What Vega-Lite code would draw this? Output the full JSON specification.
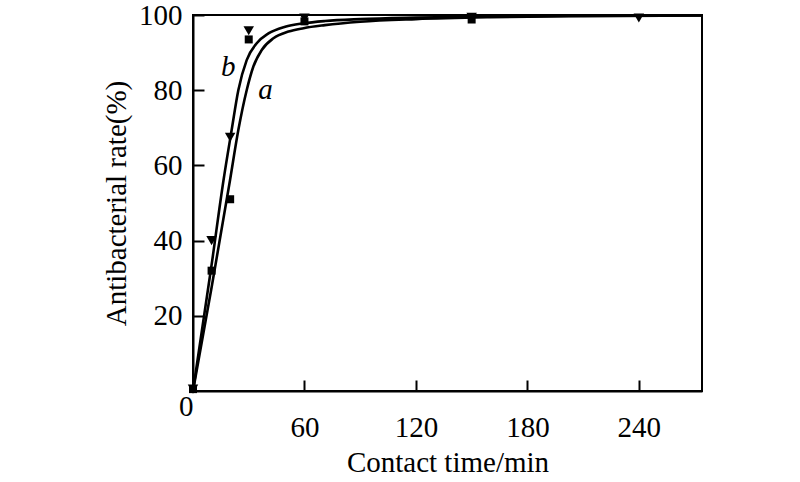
{
  "$schema": "https://vega.github.io/schema/vega-lite/v6.json",
  "width": 509,
  "height": 376,
  "autosize": "none",
  "padding": {"left": 193, "top": 15, "right": 98, "bottom": 91},
  "background": "white",
  "config": {
    "view": {"stroke": "black", "strokeWidth": 2},
    "axis": {
      "domainColor": "black", "domainWidth": 2,
      "tickColor": "black", "tickWidth": 2, "tickSize": -11,
      "labelFont": "Liberation Serif", "labelFontSize": 29, "labelColor": "black",
      "titleFont": "Liberation Serif", "titleFontSize": 29, "titleFontWeight": "normal", "titleColor": "black",
      "grid": false
    }
  },
  "datasets": {
    "curves": [
      {"series": "a", "t": 0, "y": 0}, {"series": "a", "t": 10, "y": 27.5}, {"series": "a", "t": 19.9, "y": 56},
      {"series": "a", "t": 24.4, "y": 69.4}, {"series": "a", "t": 28.9, "y": 80}, {"series": "a", "t": 32.5, "y": 86.3},
      {"series": "a", "t": 37, "y": 90.7}, {"series": "a", "t": 43.3, "y": 93.8}, {"series": "a", "t": 51.4, "y": 95.6},
      {"series": "a", "t": 59.5, "y": 96.5}, {"series": "a", "t": 71, "y": 97.3}, {"series": "a", "t": 90, "y": 98.2},
      {"series": "a", "t": 120, "y": 98.9}, {"series": "a", "t": 160, "y": 99.4}, {"series": "a", "t": 210, "y": 99.7},
      {"series": "a", "t": 274, "y": 99.9},
      {"series": "b", "t": 0, "y": 0}, {"series": "b", "t": 10, "y": 33.5}, {"series": "b", "t": 16.4, "y": 56},
      {"series": "b", "t": 20.8, "y": 69.4}, {"series": "b", "t": 24.4, "y": 80}, {"series": "b", "t": 28.9, "y": 88},
      {"series": "b", "t": 34.3, "y": 92.5}, {"series": "b", "t": 40.6, "y": 95.1}, {"series": "b", "t": 49.6, "y": 96.9},
      {"series": "b", "t": 59.5, "y": 97.8}, {"series": "b", "t": 71, "y": 98.4}, {"series": "b", "t": 90, "y": 98.9},
      {"series": "b", "t": 120, "y": 99.3}, {"series": "b", "t": 160, "y": 99.6}, {"series": "b", "t": 210, "y": 99.8},
      {"series": "b", "t": 274, "y": 99.9}
    ],
    "points": [
      {"series": "a", "t": 0, "y": 0.5}, {"series": "a", "t": 10, "y": 32}, {"series": "a", "t": 20, "y": 51},
      {"series": "a", "t": 30, "y": 93.5}, {"series": "a", "t": 60, "y": 98.3}, {"series": "a", "t": 150, "y": 98.8},
      {"series": "b", "t": 0, "y": 0.5}, {"series": "b", "t": 10, "y": 40}, {"series": "b", "t": 20, "y": 67.5},
      {"series": "b", "t": 30, "y": 95.8}, {"series": "b", "t": 60, "y": 99.2}, {"series": "b", "t": 150, "y": 99.4},
      {"series": "b", "t": 240, "y": 99.2}
    ],
    "labels": [
      {"label": "a", "t": 39, "y": 80},
      {"label": "b", "t": 19, "y": 86.3}
    ]
  },
  "layer": [
    {
      "data": {"name": "curves"},
      "mark": {"type": "line", "color": "black", "strokeWidth": 2.6, "interpolate": "monotone", "clip": true},
      "encoding": {
        "x": {"field": "t", "type": "quantitative", "scale": {"domain": [0, 274], "nice": false},
              "axis": {"values": [0, 60, 120, 180, 240], "title": "Contact time/min", "titlePadding": 6,
                       "labelAlign": {"condition": {"test": "datum.value === 0", "value": "right"}, "value": "center"},
                       "labelPadding": {"condition": {"test": "datum.value === 0", "value": 12}, "value": 33}}},
        "y": {"field": "y", "type": "quantitative", "scale": {"domain": [0, 100], "nice": false},
              "axis": {"values": [20, 40, 60, 80, 100], "title": "Antibacterial rate(%)", "titlePadding": 7, "labelPadding": 22}},
        "detail": {"field": "series"}
      }
    },
    {
      "data": {"name": "points"},
      "mark": {"type": "point", "filled": true, "color": "black", "opacity": 1},
      "encoding": {
        "x": {"field": "t", "type": "quantitative"},
        "y": {"field": "y", "type": "quantitative"},
        "shape": {"field": "series", "type": "nominal", "scale": {"domain": ["a", "b"], "range": ["square", "triangle-down"]}, "legend": null},
        "size": {"field": "series", "type": "nominal", "scale": {"domain": ["a", "b"], "range": [64, 110]}, "legend": null}
      }
    },
    {
      "data": {"name": "labels"},
      "mark": {"type": "text", "font": "Liberation Serif", "fontSize": 29, "fontStyle": "italic", "color": "black", "align": "center", "baseline": "middle"},
      "encoding": {
        "x": {"field": "t", "type": "quantitative"},
        "y": {"field": "y", "type": "quantitative"},
        "text": {"field": "label"}
      }
    }
  ]
}
